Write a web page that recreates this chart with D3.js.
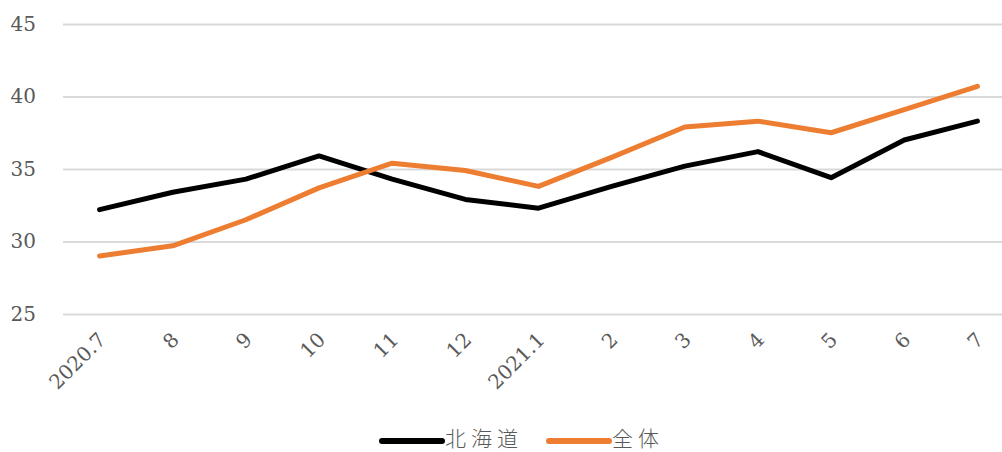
<!DOCTYPE html>
<html>
<head>
<meta charset="utf-8">
<style>
  body { margin: 0; background: #fff; }
  svg { display: block; }
</style>
</head>
<body>
<svg id="chart" width="1002" height="452"></svg>
<script src="https://d3js.org/d3.v7.min.js"></script>
<script>

var months = ["2020.7", "8", "9", "10", "11", "12", "2021.1", "2", "3", "4", "5", "6", "7"];
var hokkaido = [32.2, 33.4, 34.3, 35.9, 34.3, 32.9, 32.3, 33.8, 35.2, 36.2, 34.4, 37.0, 38.3];
var zentai = [29.0, 29.7, 31.5, 33.7, 35.4, 34.9, 33.8, 35.8, 37.9, 38.3, 37.5, 39.1, 40.7];
var yTicks = [25, 30, 35, 40, 45];
var seriesNames = ["北海道", "全体"];

var svg = d3.select("#chart"),
    margin = {top: 24, right: -12, bottom: 138, left: 63},
    width = +svg.attr("width") - margin.left - margin.right,
    height = +svg.attr("height") - margin.top - margin.bottom,
    g = svg.append("g").attr("transform", "translate(" + margin.left + "," + margin.top + ")");

var x = d3.scalePoint()
    .domain(months)
    .range([0, width])
    .padding(0.5);

var y = d3.scaleLinear()
    .domain([25, 45])
    .range([height, 0]);

var axisFont = "'DejaVu Serif', 'Liberation Serif', serif";

// grid lines + y labels
var yAxis = g.append("g")
    .call(d3.axisLeft(y).tickValues(yTicks).tickSize(-width).tickPadding(27).tickFormat(d3.format("d")));
yAxis.select(".domain").remove();
yAxis.selectAll("line").attr("stroke", "#d9d9d9").attr("stroke-width", 2);
yAxis.selectAll("text")
    .attr("fill", "#595959")
    .style("font-family", axisFont)
    .style("font-size", "20px");

// x labels
var xAxis = g.append("g")
    .attr("transform", "translate(0," + height + ")")
    .call(d3.axisBottom(x).tickSize(0).tickPadding(0));
xAxis.select(".domain").remove();
xAxis.selectAll("text")
    .attr("fill", "#595959")
    .style("font-family", axisFont)
    .style("font-size", "20px")
    .attr("text-anchor", "end")
    .attr("dy", "0.35em")
    .attr("transform", "translate(2,22) rotate(-45)");

var line = d3.line()
    .x(function(d, i) { return x(months[i]); })
    .y(function(d) { return y(d); });

var colors = ["#000000", "#ed7d31"];
[hokkaido, zentai].forEach(function(data, i) {
  g.append("path")
      .datum(data)
      .attr("fill", "none")
      .attr("stroke", colors[i])
      .attr("stroke-width", 5)
      .attr("stroke-linejoin", "round")
      .attr("stroke-linecap", "round")
      .attr("d", line);
});

// legend
var legend = svg.append("g").attr("transform", "translate(382,441)");
var lx = [0, 167];
seriesNames.forEach(function(name, i) {
  legend.append("line")
      .attr("x1", lx[i]).attr("x2", lx[i] + 60)
      .attr("y1", 0).attr("y2", 0)
      .attr("stroke", colors[i])
      .attr("stroke-width", 6)
      .attr("stroke-linecap", "round");
  legend.append("text")
      .attr("x", lx[i] + 63)
      .attr("y", -2)
      .attr("dy", "0.35em")
      .attr("fill", "#595959")
      .style("font-family", "'Noto Sans CJK JP', sans-serif")
      .style("font-weight", 300)
      .style("font-size", "21px")
      .style("letter-spacing", "5px")
      .text(name);
});

</script>
</body>
</html>
